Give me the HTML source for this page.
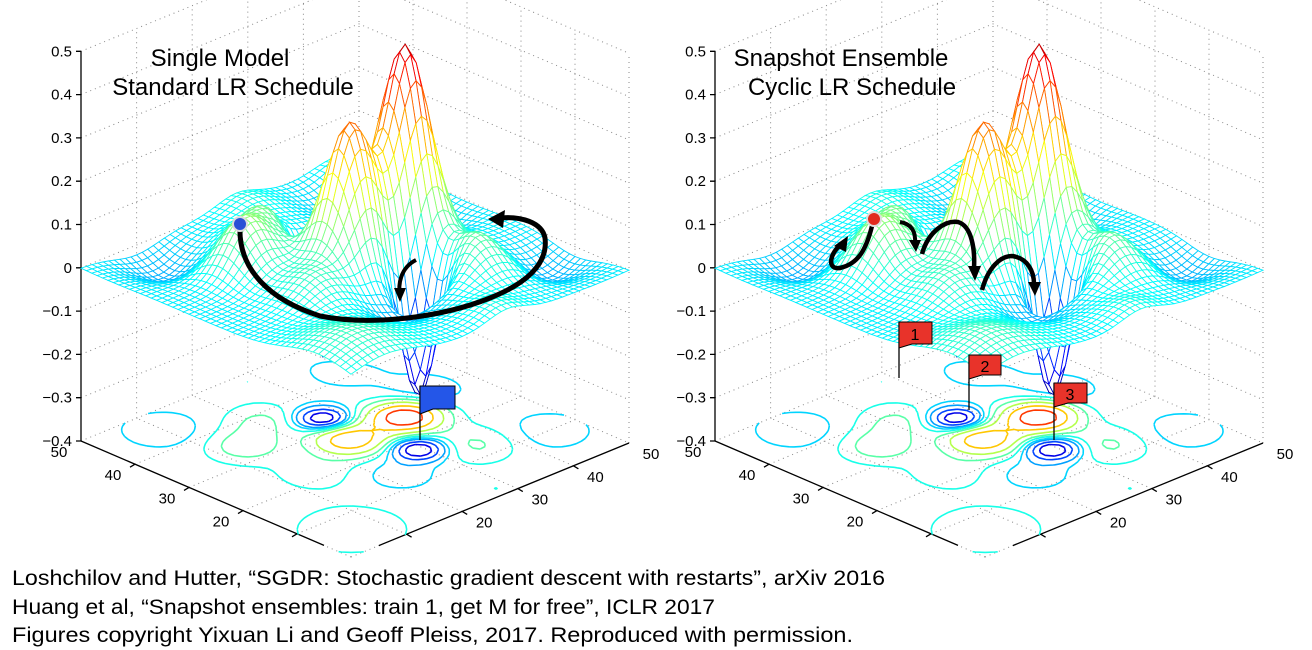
<!DOCTYPE html>
<html><head><meta charset="utf-8"><style>
html,body{margin:0;padding:0;background:#fff;}
svg{display:block;font-family:"Liberation Sans",sans-serif;}
</style></head><body>
<svg id="chart" width="1312" height="650" viewBox="0 0 1312 650" xmlns="http://www.w3.org/2000/svg">
<g id="panelL"></g>
<g id="panelR"></g>
<g>
 <text x="220" y="66" font-size="24" text-anchor="middle">Single Model</text>
 <text x="233" y="95" font-size="24" text-anchor="middle">Standard LR Schedule</text>
 <path d="M240,226 C238,270 270,300 320,316 C370,326 440,318 490,298 C530,282 548,262 545,238 C542,222 520,216 500,218" fill="none" stroke="#000" stroke-width="5"/>
 <polygon points="488,219 505,210 503,228" fill="#000"/>
 <path d="M416,260 C400,268 398,285 400,296" fill="none" stroke="#000" stroke-width="4"/>
 <polygon points="400,302 394,288 406,288" fill="#000"/>
 <circle cx="240" cy="224" r="7" fill="#2a4fd6" stroke="#ddd" stroke-width="2"/>
 <line x1="420" y1="386" x2="420" y2="440" stroke="#000" stroke-width="1.3"/>
 <path d="M420,386 L455,386 L455,409 L433,409 L420,414 Z" fill="#2456e8" stroke="#000" stroke-width="1"/>
</g>
<g>
 <text x="841" y="66" font-size="24" text-anchor="middle">Snapshot Ensemble</text>
 <text x="852" y="95" font-size="24" text-anchor="middle">Cyclic LR Schedule</text>
 <path d="M872,226 C866,250 858,264 840,268 C826,270 830,252 842,244" fill="none" stroke="#000" stroke-width="4.5"/>
 <polygon points="848,236 846,252 834,246" fill="#000"/>
 <path d="M900,222 C912,224 916,232 915,244" fill="none" stroke="#000" stroke-width="4"/>
 <polygon points="916,252 909,240 921,240" fill="#000"/>
 <path d="M922,254 C928,232 945,220 958,222 C972,226 975,250 974,268" fill="none" stroke="#000" stroke-width="4.5"/>
 <polygon points="975,281 968,266 981,266" fill="#000"/>
 <path d="M982,290 C988,268 1000,256 1012,256 C1028,258 1034,272 1034,284" fill="none" stroke="#000" stroke-width="4.5"/>
 <polygon points="1035,296 1028,282 1041,282" fill="#000"/>
 <circle cx="874" cy="219" r="7" fill="#e22a1e" stroke="#ddd" stroke-width="2"/>
 <line x1="899" y1="322" x2="899" y2="378" stroke="#000" stroke-width="1.3"/>
 <path d="M899,322 L932,322 L932,344 L912,344 L899,348 Z" fill="#e8332a" stroke="#000" stroke-width="1"/>
 <text x="915" y="340" font-size="16" text-anchor="middle">1</text>
 <line x1="969" y1="355" x2="969" y2="410" stroke="#000" stroke-width="1.3"/>
 <path d="M969,355 L1001,355 L1001,375 L982,375 L969,379 Z" fill="#e8332a" stroke="#000" stroke-width="1"/>
 <text x="985" y="372" font-size="16" text-anchor="middle">2</text>
 <line x1="1054" y1="383" x2="1054" y2="440" stroke="#000" stroke-width="1.3"/>
 <path d="M1054,383 L1087,383 L1087,403 L1068,403 L1054,407 Z" fill="#e8332a" stroke="#000" stroke-width="1"/>
 <text x="1070" y="400" font-size="16" text-anchor="middle">3</text>
</g>
<g font-size="21.5" fill="#000">
 <text x="12" y="585" textLength="873" lengthAdjust="spacingAndGlyphs">Loshchilov and Hutter, “SGDR: Stochastic gradient descent with restarts”, arXiv 2016</text>
 <text x="12" y="614" textLength="703" lengthAdjust="spacingAndGlyphs">Huang et al, “Snapshot ensembles: train 1, get M for free”, ICLR 2017</text>
 <text x="12" y="642" textLength="841" lengthAdjust="spacingAndGlyphs">Figures copyright Yixuan Li and Geoff Pleiss, 2017. Reproduced with permission.</text>
</g>
</svg>
<script>
// ---- data ----
const peakX = [26, 26, 33, 17.6, 34, 13.6, 22, 38, 6, 45, 10, 45, 42, 30, 14, 48, 2];
const peakY = [35, 25, 27, 29.3, 14, 35.5, 15, 21, 6, 45, 45, 10, 40, 42, 22, 28, 28];
const peakH = [0.46, 0.33, -0.3, -0.3, 0.12, 0.09, 0.06, 0.09, 0.06, 0.04, -0.05, -0.05, -0.05, -0.06, -0.05, 0.03, 0.03];
const peakS = [3.3, 3.4, 2.4, 2.4, 3.5, 4, 4, 3.5, 6, 4, 4, 4, 4, 3.5, 3.5, 3.5, 3.5];
const zTicks = [0.5, 0.4, 0.3, 0.2, 0.1, 0, -0.1, -0.2, -0.3, -0.4];
const zTickLabels = ["0.5","0.4","0.3","0.2","0.1","0","\u22120.1","\u22120.2","\u22120.3","\u22120.4"];
const xyTicks = [20, 30, 40, 50];
const contourLevels = [-0.2, -0.13, -0.06, -0.02, 0.03, 0.08, 0.15, 0.25, 0.36];

const NS = "http://www.w3.org/2000/svg";
const N = 50;
function f(x, y) {
  let z = 0;
  for (let i = 0; i < peakX.length; i++) {
    const dx = x - peakX[i], dy = y - peakY[i];
    z += peakH[i] * Math.exp(-(dx*dx + dy*dy) / (2 * peakS[i] * peakS[i]));
  }
  return z;
}
function jet(v) {
  let t = (v + 0.28) / 0.78; t = Math.max(0, Math.min(1, t));
  const c = a => Math.round(255 * Math.max(0, Math.min(1, 1.5 - Math.abs(4 * t - a))));
  return `rgb(${c(3)},${c(2)},${c(1)})`;
}
function mk(parent, tag, attrs) {
  const e = document.createElementNS(NS, tag);
  for (const k in attrs) e.setAttribute(k, attrs[k]);
  parent.appendChild(e);
  return e;
}
const grid = [];
for (let i = 0; i <= N; i++) { grid.push([]); for (let j = 0; j <= N; j++) grid[i].push(f(i, j)); }

function drawPanel(g, off) {
  const P = (x, y, z) => [351 + off - 5.4 * x + 5.56 * y, 557 - 2.32 * x - 2.28 * y - 433 * (z + 0.4)];
  const pt = p => p[0].toFixed(1) + "," + p[1].toFixed(1);
  let d = "";
  zTicks.forEach(z => { d += "M" + pt(P(50, 0, z)) + "L" + pt(P(50, 50, z)) + "L" + pt(P(0, 50, z)); });
  [0, 10, 20, 30, 40].forEach(t => {
    d += "M" + pt(P(50, t, -0.4)) + "L" + pt(P(50, t, 0.5));
    d += "M" + pt(P(t, 50, -0.4)) + "L" + pt(P(t, 50, 0.5));
    d += "M" + pt(P(t, 0, -0.4)) + "L" + pt(P(t, 50, -0.4));
    d += "M" + pt(P(0, t, -0.4)) + "L" + pt(P(50, t, -0.4));
  });
  d += "M" + pt(P(50, 50, -0.4)) + "L" + pt(P(50, 50, 0.5));
  const gridPath = mk(g, "path", { d: d, fill: "none", stroke: "#888", "stroke-width": 1, "stroke-dasharray": "1 4" });
  
  
  const zl = P(50, 0, -0.4), zt = P(50, 0, 0.5);
  let ad = "M" + pt(zt) + "L" + pt(zl);
  zTicks.forEach(z => { const p = P(50, 0, z); ad += "M" + pt(p) + "l-5,0"; });
  ad += "M" + pt(zl) + "L" + pt(P(5, 0, -0.4));
  ad += "M" + pt(P(0, 5, -0.4)) + "L" + pt(P(0, 50, -0.4));
  [10, 20, 30, 40].forEach(t => {
    const a = P(t, 0, -0.4); ad += "M" + pt(a) + "l-5,3";
    const b = P(0, t, -0.4); ad += "M" + pt(b) + "l5,3";
  });
  const axes = mk(g, "path", { d: ad, fill: "none", stroke: "#000", "stroke-width": 1.3 });
  
  
  zTicks.forEach((z, i) => {
    const p = P(50, 0, z);
    const t = mk(g, "text", { x: p[0] - 9, y: p[1] + 5, "font-size": 15, "text-anchor": "end" });
    t.textContent = zTickLabels[i];
    
    
  });
  xyTicks.forEach(v => {
    const a = P(v, 0, -0.4);
    const t1 = mk(g, "text", { x: a[0] - 22, y: a[1] + 16, "font-size": 15, "text-anchor": "middle" });
    t1.textContent = v;
    
    
    const b = P(0, v, -0.4);
    const t2 = mk(g, "text", { x: b[0] + 22, y: b[1] + 16, "font-size": 15, "text-anchor": "middle" });
    t2.textContent = v;
    
    
  });
  contourLevels.forEach(L => {
    let cd = "";
    for (let i = 0; i < N; i++) for (let j = 0; j < N; j++) {
      const v = [grid[i][j] - L, grid[i + 1][j] - L, grid[i + 1][j + 1] - L, grid[i][j + 1] - L];
      const c = [[i, j], [i + 1, j], [i + 1, j + 1], [i, j + 1]];
      const pts = [];
      for (let k = 0; k < 4; k++) {
        const a = v[k], b = v[(k + 1) % 4];
        if ((a < 0) !== (b < 0)) {
          const t = a / (a - b), p0 = c[k], p1 = c[(k + 1) % 4];
          pts.push(P(p0[0] + t * (p1[0] - p0[0]), p0[1] + t * (p1[1] - p0[1]), -0.4));
        }
      }
      for (let k = 0; k + 1 < pts.length; k += 2) cd += "M" + pt(pts[k]) + "L" + pt(pts[k + 1]);
    }
    const cp = mk(g, "path", { d: cd, fill: "none", stroke: jet(L), "stroke-width": 1.6 });
    
    
  });
  const cells = [];
  for (let i = 0; i < N; i++) for (let j = 0; j < N; j++) cells.push([i, j]);
  cells.sort((a, b) => (b[0] + b[1]) - (a[0] + a[1]));
  const sg = mk(g, "g", {});
  
  
  let html = "";
  cells.forEach(([i, j]) => {
    const zs = [grid[i][j], grid[i + 1][j], grid[i + 1][j + 1], grid[i][j + 1]];
    const ps = [P(i, j, zs[0]), P(i + 1, j, zs[1]), P(i + 1, j + 1, zs[2]), P(i, j + 1, zs[3])];
    const zm = (zs[0] + zs[1] + zs[2] + zs[3]) / 4;
    html += `<polygon points="${ps.map(pt).join(" ")}" fill="#fff" stroke="${jet(zm)}" stroke-width="0.9"/>`;
  });
  sg.innerHTML = html;
}
drawPanel(document.getElementById("panelL"), 0);
drawPanel(document.getElementById("panelR"), 634);
</script>
</body></html>
